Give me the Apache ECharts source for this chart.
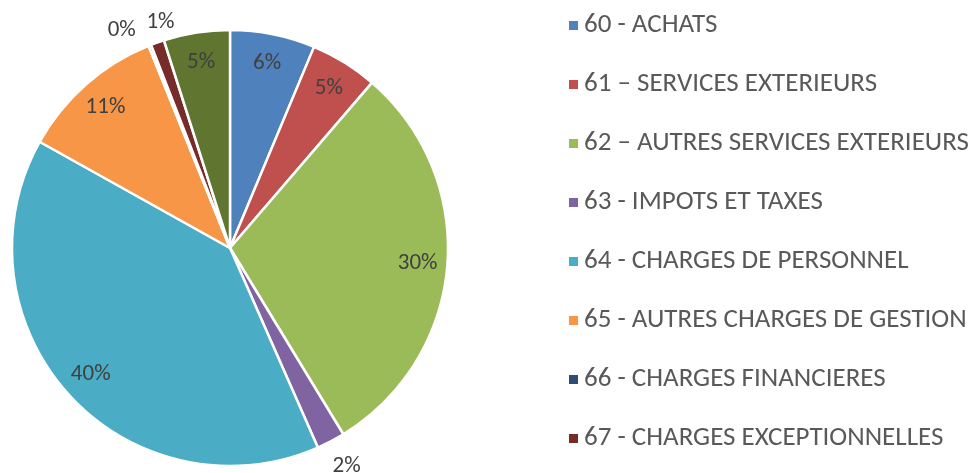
<!DOCTYPE html>
<html>
<head>
<meta charset="utf-8">
<script src="https://cdn.jsdelivr.net/npm/echarts@6/dist/echarts.min.js"></script>
<style>
  html, body { margin: 0; padding: 0; background: #fff; }
  #chart { width: 973px; height: 473px; }
</style>
</head>
<body>
<div id="chart"></div>
<script>
// comptes de charges (part en %)
const categories = [
  '60 - ACHATS',
  '61 – SERVICES EXTERIEURS',
  '62 – AUTRES SERVICES EXTERIEURS',
  '63 - IMPOTS ET TAXES',
  '64 - CHARGES DE PERSONNEL',
  '65 - AUTRES CHARGES DE GESTION',
  '66 - CHARGES FINANCIERES',
  '67 - CHARGES EXCEPTIONNELLES',
  '68 - DOTATIONS'
];
const values = [6.3, 5.0, 30.0, 2.1, 39.7, 10.8, 0.2, 1.0, 4.9];
const legendNames = categories.slice(0, 8);
// petites parts : étiquette hors du disque
const outsideLabels = [false, false, false, true, false, false, true, true, false];

const colors = ['#4F81BD', '#C0504D', '#9BBB59', '#8064A2', '#4BACC6',
  '#F79646', '#2C4D75', '#772C2A', '#5F7530'];

const center = [230, 248];
const R = 218;
const font = 'Carlito, Calibri, "Open Sans", sans-serif';

const chart = echarts.init(document.getElementById('chart'));

const pct = p => Math.round(p.percent) + '%';

// petits décalages façon Excel pour les étiquettes 0% / 1%
const nudge = { 6: { dx: -17, dy: 13 }, 7: { dx: 13, dy: 8 }, 3: { dx: 2, dy: -2 } };

function labelSeries(radius, outside) {
  return {
    type: 'pie',
    center: center,
    radius: radius,
    silent: true,
    startAngle: 90,
    clockwise: true,
    legendHoverLink: false,
    emphasis: { disabled: true },
    itemStyle: { color: 'transparent', borderWidth: 0 },
    label: {
      position: 'inside',
      formatter: pct,
      color: '#404040',
      fontSize: 23,
      fontFamily: font
    },
    labelLine: { show: false },
    labelLayout: function (p) {
      const n = outside ? nudge[p.dataIndex] : null;
      return Object.assign({ hideOverlap: false }, n || {});
    },
    data: categories.map((name, i) => ({
      name: name,
      value: values[i],
      label: { show: outsideLabels[i] === outside }
    }))
  };
}

chart.setOption({
  animation: false,
  color: colors,
  legend: {
    data: legendNames,
    orient: 'vertical',
    left: 567,
    top: 12,
    padding: 0,
    itemWidth: 11,
    itemHeight: 11,
    itemGap: 32,
    icon: 'rect',
    selectedMode: false,
    textStyle: {
      color: '#595959',
      fontSize: 27,
      lineHeight: 27,
      fontFamily: font
    }
  },
  series: [
    {
      type: 'pie',
      center: center,
      radius: [0, R],
      startAngle: 90,
      clockwise: true,
      itemStyle: { borderColor: '#fff', borderWidth: 2.5 },
      label: { show: false },
      labelLine: { show: false },
      emphasis: { disabled: true },
      data: categories.map((name, i) => ({ name: name, value: values[i] }))
    },
    labelSeries([R * 0.7, R], false),
    labelSeries([R + 8, R + 46], true)
  ]
});
</script>
</body>
</html>
